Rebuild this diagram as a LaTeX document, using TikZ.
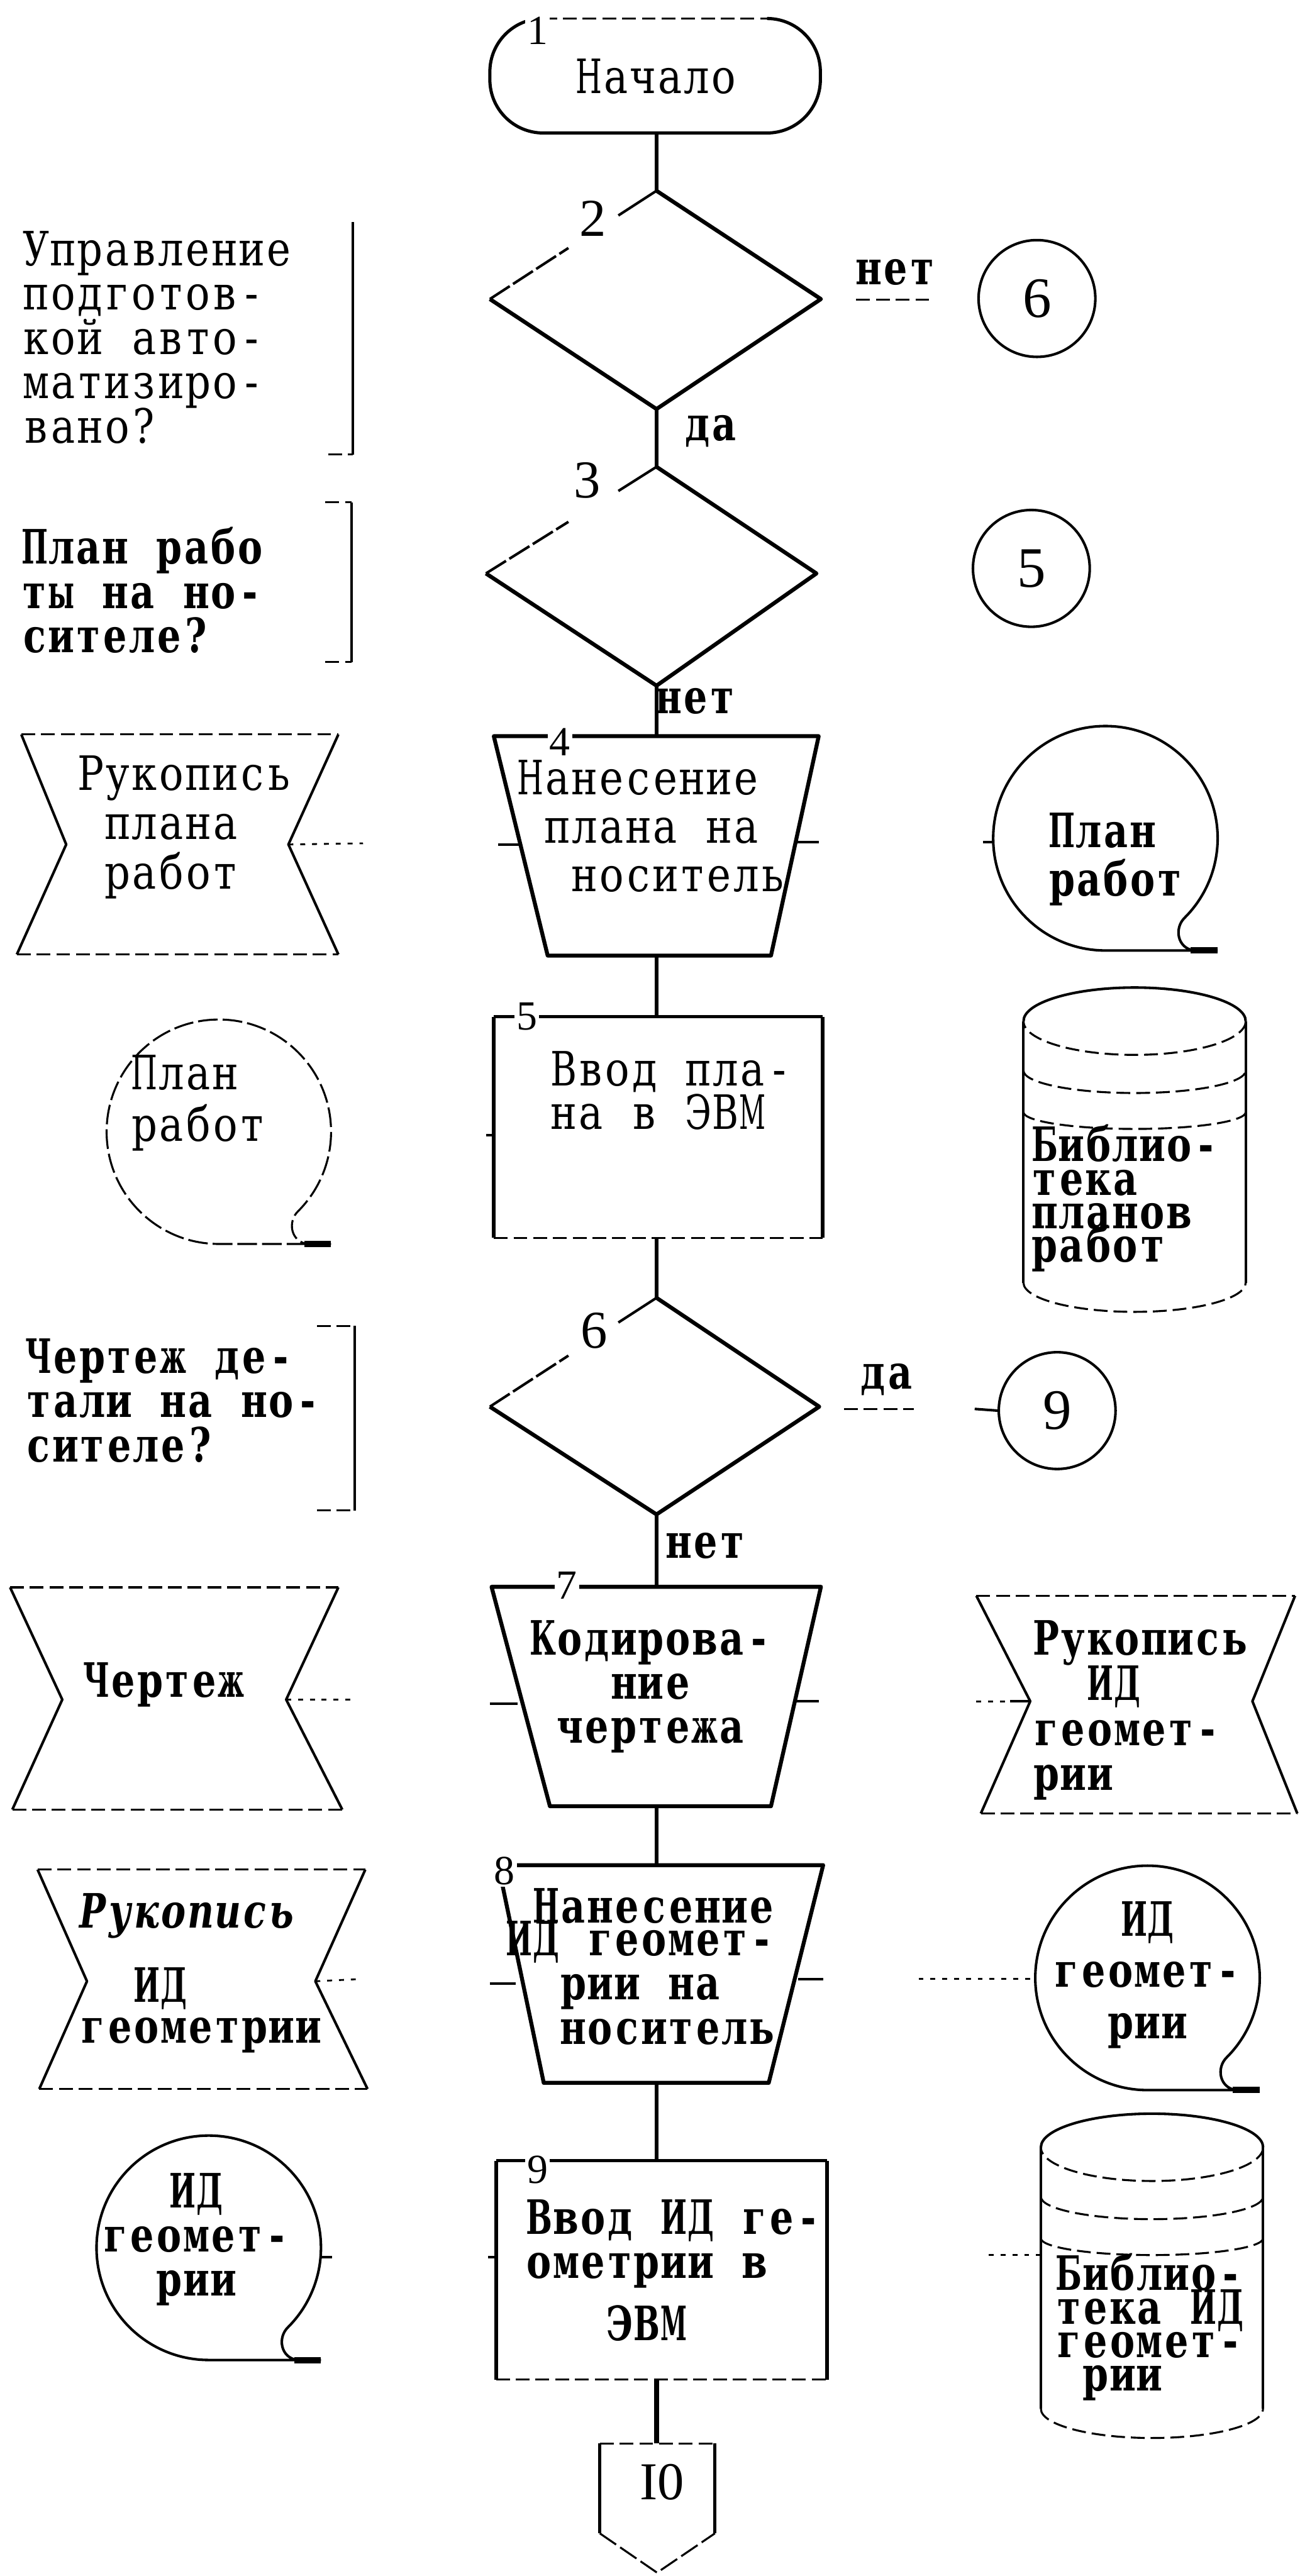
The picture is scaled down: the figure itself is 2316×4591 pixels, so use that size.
\documentclass[tikz,border=0pt]{standalone}
\usepackage{graphicx}
\usepackage{fontspec}
\setmainfont{Liberation Serif}
% slab serif faces, condensed and set on a fixed typewriter pitch
\newfontfamily\tw[FakeStretch=0.85]{DejaVu Serif}
\newfontfamily\twb[FakeStretch=0.78,UprightFont={* Bold},ItalicFont={* Bold Italic}]{DejaVu Serif}
\newfontfamily\serifnum{Liberation Serif}
% every character in a cell of one typewriter pitch (wide letters squeezed to fit);
% ~ is an empty cell
\newsavebox\glyphbox
\newcommand\cellchar[1]{\sbox\glyphbox{#1}%
  \ifdim\wd\glyphbox>0.47cm
    \hbox to 0.48cm{\hss\resizebox{0.47cm}{\height}{#1}\hss}%
  \else
    \hbox to 0.48cm{\hss#1\hss}%
  \fi}
\def\monoA#1{\ifx\relax#1\else\cellchar{#1}\expandafter\monoA\fi}
\newcommand\mono[1]{\monoA#1\relax}
% multi-line blocks whose baseline is the first line
\newcommand\blockL[1]{\vtop{\halign{\monoA##\relax\hfil\cr#1\crcr}}}
\newcommand\blockC[1]{\vtop{\halign{\hfil\monoA##\relax\hfil\cr#1\crcr}}}
\newcommand\blockP[1]{\vtop{\halign{##\hfil\cr#1\crcr}}}
\newcommand\twsize[1]{\fontsize{24pt}{#1}\selectfont\lineskiplimit=-100pt\relax}

\tikzset{
  main/.style={line width=2pt, line join=round},
  mid/.style={line width=1.6pt, line join=round},
  conn/.style={line width=2pt},
  side/.style={line width=1.3pt, line join=round},
  lite/.style={line width=1pt, dash pattern=on 10pt off 2.5pt},
  faint/.style={line width=1pt, dash pattern=on 7pt off 3pt},
  dots/.style={line width=0.9pt, dash pattern=on 2.5pt off 3.5pt},
  upedge/.style={line width=1.3pt, dash pattern=on 12pt off 2pt},
  txt/.style={inner sep=0pt, font=\tw\twsize{#1}},
  txt/.default=22.5pt,
  txtb/.style={inner sep=0pt, font=\twb\twsize{#1}},
  txtb/.default=22.5pt,
  num/.style={font=\serifnum\fontsize{21pt}{21pt}\selectfont, inner sep=1pt, fill=white},
  bignum/.style={font=\serifnum\fontsize{27pt}{27pt}\selectfont, inner sep=0pt},
  conncirc/.style={circle, draw, line width=1.3pt, minimum size=2.08cm, inner sep=0pt,
                   font=\serifnum\fontsize{29pt}{29pt}\selectfont},
  pics/tapesym/.style={code={
    \draw[#1] (200,200) -- (0,200) arc[start angle=90,end angle=405,radius=200]
      .. controls (122,160) and (128,196) .. (158,200);
    \draw[line width=3.2pt] (152,200) -- (200,200);
  }},
  pics/cylsym/.style={code={
    \draw[side] (-198,0) -- (-198,466);
    \draw[side] (198,0) -- (198,466);
    \draw[side] (-198,0) arc[start angle=180,end angle=360,x radius=198,y radius=60];
    \draw[faint] (198,0) arc[start angle=0,end angle=180,x radius=198,y radius=60];
    \draw[faint] (-198,88) arc[start angle=180,end angle=0,x radius=198,y radius=40];
    \draw[faint] (-198,162) arc[start angle=180,end angle=0,x radius=198,y radius=30];
    \draw[faint] (-198,466) arc[start angle=180,end angle=0,x radius=198,y radius=52];
  }}
}

\begin{document}
\begin{tikzpicture}[x=0.01cm,y=-0.01cm]
\useasboundingbox (0,0) rectangle (2316,4591);

% ---------- anchor points of the main column ----------
\coordinate (t1b) at (1170,237);
\coordinate (d2t) at (1170,340);  \coordinate (d2b) at (1170,729);  \coordinate (d2r) at (1463,533);
\coordinate (d3t) at (1170,832);  \coordinate (d3b) at (1170,1222);
\coordinate (p4t) at (1170,1312); \coordinate (p4b) at (1170,1703);
\coordinate (r5t) at (1170,1812); \coordinate (r5b) at (1170,2206);
\coordinate (d6t) at (1170,2313); \coordinate (d6b) at (1170,2699); \coordinate (d6r) at (1460,2507);
\coordinate (p7t) at (1170,2828); \coordinate (p7b) at (1170,3219);
\coordinate (p8t) at (1170,3324); \coordinate (p8b) at (1170,3712);
\coordinate (r9t) at (1170,3851); \coordinate (r9b) at (1170,4241);
\coordinate (c10t) at (1170,4355);

% ---------- 1: start ----------
\draw[faint] (968,33) -- (1367,33);
\draw[mid] (1367,33) arc[start angle=-90,end angle=0,radius=95] -- (1462,142)
  arc[start angle=0,end angle=90,radius=95] -- (968,237)
  arc[start angle=90,end angle=180,radius=95] -- (873,128)
  arc[start angle=180,end angle=270,radius=95];
\node[txt, anchor=base] (t1txt) at (1170,166) {\mono{Начало}};
\node[num] (n1) at (958,55) {1};

% ---------- 2: decision ----------
\draw[main] (d2t) -- (d2r) -- (d2b) -- (873,533);
\draw[upedge] (873,533) -- (1013,442);
\draw[side] (1102,384) -- (d2t);
\node[bignum] (n2) at (1057,390) {2};
\node[conncirc] (k6) at (1848,532) {6};
\node[txtb, anchor=base] (no1) at (1596,507) {\mono{нет}};
\draw[faint] (1526,534) -- (1655,534);
\node[txtb, anchor=base] (yes1) at (1267,785) {\mono{да}};

\draw[side] (629,396) -- (629,810);
\draw[faint] (585,810) -- (629,810);
\node[txt, anchor=base west] (c1) at (40,473)
  {\blockL{Управление\cr подготов-\cr кой~авто-\cr матизиро-\cr вано?}};

% ---------- 3: decision ----------
\draw[main] (d3t) -- (1455,1022) -- (d3b) -- (866,1022);
\draw[upedge] (866,1022) -- (1013,930);
\draw[side] (1102,875) -- (d3t);
\node[bignum] (n3) at (1046,856) {3};
\node[conncirc] (k5) at (1838,1013) {5};
\node[txtb, anchor=base] (no2) at (1240,1272) {\mono{нет}};

\draw[faint] (580,895) -- (627,895);
\draw[side] (627,895) -- (627,1180);
\draw[faint] (580,1180) -- (627,1180);
\node[txtb, anchor=base west] (c2) at (37,1005)
  {\blockL{План~рабо\cr ты~на~но-\cr сителе?}};

% ---------- 4: manual operation ----------
\draw[main] (880,1312) -- (1459,1312) -- (1374,1703) -- (976,1703) -- cycle;
\node[num] (n4) at (998,1322) {4};
\node[txt=24.5pt, anchor=base west] (p4txt) at (921,1416)
  {\blockL{Нанесение\cr ~плана~на\cr ~~носитель}};
\draw[side] (888,1505) -- (927,1505);
\draw[side] (1417,1501) -- (1459,1501);

% manuscript of the work plan
\draw[side] (38,1309) -- (118,1505) -- (30,1701);
\draw[side] (603,1309) -- (514,1505) -- (603,1701);
\draw[faint] (38,1309) -- (603,1309);
\draw[faint] (30,1701) -- (603,1701);
\coordinate (h1r) at (514,1505);
\draw[dots] (h1r) -- (647,1503);
\node[txt=25pt, anchor=base west] (h1txt) at (137,1408) {\blockL{Рукопись\cr ~плана\cr ~работ}};

% work plan on tape (right)
\pic at (1970,1494) {tapesym=side};
\draw[side] (1752,1501) -- (1771,1501);
\node[txtb=24.5pt, anchor=base west] (tp1txt) at (1868,1510) {\blockL{План\cr работ}};

% ---------- 5: input ----------
\draw[main] (880,1812) -- (880,2206);
\draw[main] (1466,1812) -- (1466,2206);
\draw[mid] (880,1812) -- (1466,1812);
\draw[faint] (880,2206) -- (1466,2206);
\node[num] (n5) at (939,1812) {5};
\node[txt=22pt, anchor=base west] (r5txt) at (980,1935) {\blockL{Ввод~пла-\cr на~в~ЭВМ}};
\draw[side] (866,2023) -- (880,2023);

% work plan on tape (left)
\pic at (390,2017) {tapesym=lite};
\node[txt=26pt, anchor=base west] (tp2txt) at (233,1942) {\blockL{План\cr работ}};

% library of work plans
\pic at (2022,1820) {cylsym};
\node[txtb=17pt, anchor=base west] (cy1txt) at (1837,2070)
  {\blockL{Библио-\cr тека\cr планов\cr работ}};

% ---------- 6: decision ----------
\draw[main] (d6t) -- (d6r) -- (d6b) -- (873,2507);
\draw[upedge] (873,2507) -- (1013,2416);
\draw[side] (1102,2357) -- (d6t);
\node[bignum] (n6) at (1059,2372) {6};
\node[conncirc] (k9) at (1884,2514) {9};
\node[txtb, anchor=base] (yes2) at (1580,2475) {\mono{да}};
\draw[faint] (1504,2511) -- (1629,2511);
\draw[side] (1737,2511) -- (k9.west);
\node[txtb, anchor=base] (no3) at (1258,2777) {\mono{нет}};

\draw[faint] (565,2363) -- (632,2363);
\draw[side] (632,2363) -- (632,2692);
\draw[faint] (565,2692) -- (632,2692);
\node[txtb, anchor=base west] (c3) at (44,2447)
  {\blockL{Чертеж~де-\cr тали~на~но-\cr сителе?}};

% ---------- 7: manual operation ----------
\draw[main] (876,2828) -- (1463,2828) -- (1374,3219) -- (980,3219) -- cycle;
\node[num] (n7) at (1010,2825) {7};
\node[txtb=22.2pt, anchor=base] (p7txt) at (1160,2950) {\blockC{Кодирова-\cr ние\cr чертежа}};
\draw[side] (873,3036) -- (923,3036);
\draw[side] (1419,3032) -- (1459,3032);

% drawing
\draw[side] (18,2829) -- (111,3029) -- (22,3225);
\draw[side] (603,2829) -- (510,3029) -- (610,3225);
\draw[faint] (18,2829) -- (603,2829);
\draw[faint] (22,3225) -- (610,3225);
\coordinate (h2r) at (510,3029);
\draw[dots] (h2r) -- (636,3029);
\node[txtb, anchor=base] (h2txt) at (292,3025) {\mono{Чертеж}};

% manuscript of geometry data (right)
\draw[side] (1740,2844) -- (1836,3032) -- (1748,3232);
\draw[side] (2308,2844) -- (2232,3032) -- (2312,3232);
\draw[faint] (1740,2844) -- (2308,2844);
\draw[faint] (1748,3232) -- (2312,3232);
\coordinate (h4l) at (1836,3032);
\draw[dots] (1740,3032) -- (1800,3032);
\draw[side] (1800,3032) -- (h4l);
\node[txtb=22.8pt, anchor=base west] (h4txt) at (1840,2950)
  {\blockL{Рукопись\cr ~~ИД\cr геомет-\cr рии}};

% ---------- 8: manual operation ----------
\draw[main] (888,3324) -- (1467,3324) -- (1370,3712) -- (969,3712) -- cycle;
\node[num] (n8) at (899,3334) {8};
\node[txtb, anchor=base west] (p8txt) at (901,3427)
  {\blockL{~Нанесение\cr\noalign{\kern-0.21cm}ИД~геомет-\cr ~~рии~на\cr ~~носитель}};
\draw[side] (873,3535) -- (919,3535);
\draw[side] (1422,3527) -- (1467,3527);

% manuscript of geometry data (left)
\draw[side] (67,3332) -- (155,3531) -- (70,3723);
\draw[side] (651,3332) -- (562,3531) -- (655,3723);
\draw[faint] (67,3332) -- (651,3332);
\draw[faint] (70,3723) -- (655,3723);
\coordinate (h3r) at (562,3531);
\draw[dots] (h3r) -- (643,3527);
\node[txtb=20.8pt, anchor=base west] (h3txt) at (141,3436)
  {\blockP{\itshape\mono{Рукопись}\cr\noalign{\kern0.59cm}\mono{~~ИД}\cr \mono{геометрии}}};

% geometry data on tape (right)
\pic at (2045,3525) {tapesym=side};
\draw[dots] (1637,3527) -- (1845,3527);
\node[txtb=26pt, anchor=base] (tp3txt) at (2045,3450) {\blockC{ИД\cr геомет-\cr рии}};

% ---------- 9: input ----------
\draw[main] (884,3851) -- (884,4241);
\draw[main] (1474,3851) -- (1474,4241);
\draw[mid] (884,3851) -- (1474,3851);
\draw[faint] (884,4241) -- (1474,4241);
\node[num] (n9) at (958,3867) {9};
\node[txtb=22.2pt, anchor=base west] (r9txt) at (936,3982)
  {\blockL{Ввод~ИД~ге-\cr ометрии~в\cr\noalign{\kern0.33cm}~~~ЭВМ}};
\draw[side] (870,4023) -- (884,4023);

% geometry data on tape (left)
\pic at (372,4006) {tapesym=side};
\draw[side] (572,4023) -- (592,4023);
\node[txtb=22.2pt, anchor=base] (tp4txt) at (350,3935) {\blockC{ИД\cr геомет-\cr рии}};

% library of geometry data
\pic at (2053,3827) {cylsym};
\draw[dots] (1762,4019) -- (1855,4019);
\node[txtb=17pt, anchor=base west] (cy2txt) at (1880,4082)
  {\blockL{Библио-\cr тека~ИД\cr геомет-\cr ~рии}};

% ---------- 10: off-page connector ----------
\draw[mid] (1069,4355) -- (1069,4515);
\draw[mid] (1274,4355) -- (1274,4515);
\draw[faint] (1069,4355) -- (1274,4355);
\draw[lite] (1069,4515) -- (1171,4585) -- (1274,4515);
\node[font=\serifnum\fontsize{27pt}{27pt}\selectfont, inner sep=0pt, anchor=base] (c10txt) at (1180,4455) {I0};

% ---------- flow lines ----------
\draw[conn] (t1b) -- (d2t);
\draw[conn] (d2b) -- (d3t);
\draw[conn] (d3b) -- (p4t);
\draw[conn] (p4b) -- (r5t);
\draw[conn] (r5b) -- (d6t);
\draw[conn] (d6b) -- (p7t);
\draw[conn] (p7b) -- (p8t);
\draw[conn] (p8b) -- (r9t);
\draw[conn, line width=2.6pt] (r9b) -- (c10t);
\end{tikzpicture}
\end{document}
